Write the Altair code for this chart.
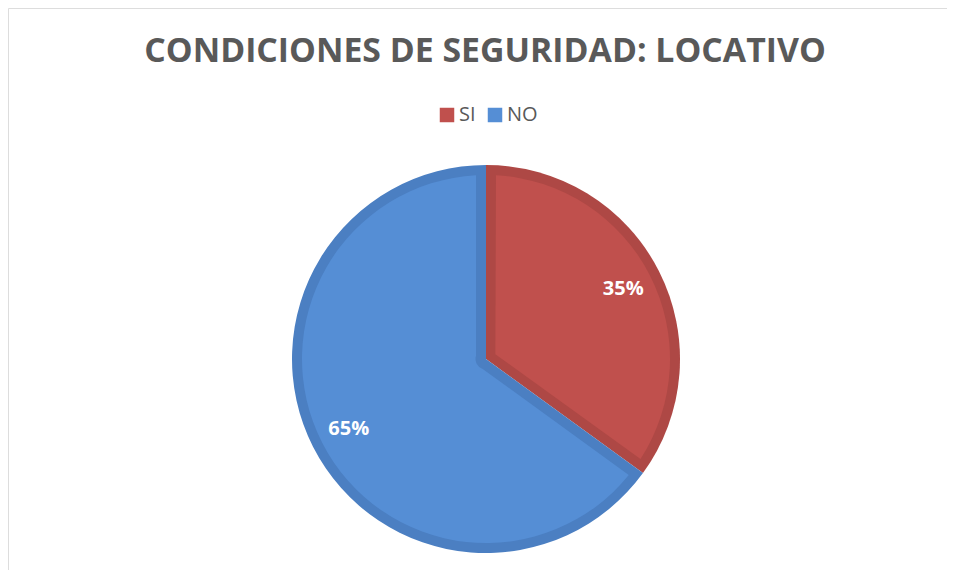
import altair as alt
import pandas as pd

categories = ["SI", "NO"]
values = [35, 65]
labels = ["35%", "65%"]
fill_colors = ["#C0504D", "#558ED5"]
edge_colors = ["#AE4845", "#4B7FC2"]
title_text = "CONDICIONES DE SEGURIDAD: LOCATIVO"

df = pd.DataFrame({
    "cat": categories,
    "val": values,
    "label": labels,
    "edge": edge_colors,
    "ord": list(range(len(categories))),
})

CX, CY = 478, 351
R = 194
BORDER = 10

base = alt.Chart(df).encode(
    theta=alt.Theta("val:Q", stack=True),
    order=alt.Order("ord:O"),
    x=alt.value(CX),
    y=alt.value(CY),
)

outer = base.mark_arc(outerRadius=R, innerRadius=0).encode(
    color=alt.Color("edge:N", scale=None)
)

inner = base.mark_arc(outerRadius=R - BORDER, innerRadius=10.5, padAngle=0.1086).encode(
    color=alt.Color(
        "cat:N",
        scale=alt.Scale(domain=categories, range=fill_colors),
        sort=categories,
        legend=alt.Legend(
            title=None,
            orient="none",
            legendX=429,
            legendY=97,
            direction="horizontal",
            symbolType="square",
            symbolSize=210,
            symbolStrokeWidth=0,
            labelFont="Open Sans",
            labelFontSize=20,
            labelColor="#595959",
            labelOffset=2,
            columnPadding=9,
        ),
    )
)

text = base.mark_text(
    radius=154, font="Open Sans", fontSize=20, fontWeight="bold", color="white"
).encode(text="label:N")

title = alt.Chart(pd.DataFrame({"t": [title_text]})).mark_text(
    font="Open Sans", fontSize=33.8, fontWeight="bold", color="#595959",
    baseline="alphabetic", align="center"
).encode(text="t:N", x=alt.value(477), y=alt.value(54))

chart = alt.layer(outer, inner, text, title).properties(
    width=939, height=562, autosize=alt.AutoSizeParams(type="none"), padding=0
).configure_view(stroke=None).configure(background="white")

chart.save("out.html", embed_options={"renderer": "svg", "actions": False})
